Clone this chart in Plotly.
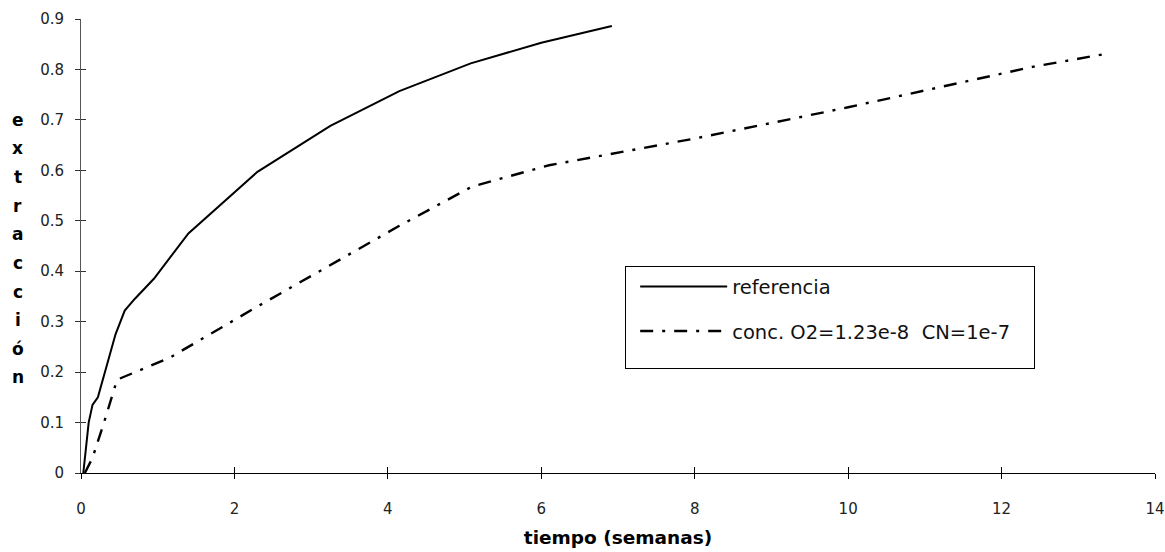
import plotly.graph_objects as go

# extraction vs time (weeks)
t_ref = [0.03, 0.10, 0.15, 0.22, 0.45, 0.57, 0.70, 0.95, 1.40, 2.30, 3.25, 4.15, 5.08, 6.00, 6.92]
ext_ref = [0.0, 0.10, 0.135, 0.15, 0.275, 0.322, 0.345, 0.385, 0.475, 0.597, 0.688, 0.757, 0.812, 0.853, 0.886]

t_o2 = [0.05, 0.15, 0.30, 0.47, 1.15, 2.30, 4.15, 5.10, 6.10, 7.00, 8.00, 9.20, 10.00, 11.20, 12.40, 13.40]
ext_o2 = [0.0, 0.03, 0.10, 0.185, 0.228, 0.33, 0.49, 0.568, 0.61, 0.635, 0.663, 0.70, 0.725, 0.765, 0.805, 0.832]

name_ref = "referencia"
name_o2 = "conc. O2=1.23e-8&nbsp;&nbsp;CN=1e-7" + "&nbsp;" * 3

x_ticks = [0, 2, 4, 6, 8, 10, 12, 14]
y_ticks = [0, 0.1, 0.2, 0.3, 0.4, 0.5, 0.6, 0.7, 0.8, 0.9]
y_tick_text = ["0", "0.1", "0.2", "0.3", "0.4", "0.5", "0.6", "0.7", "0.8", "0.9"]

y_title_letters = list("extracción")

FONT = "DejaVu Sans"

fig = go.Figure()
fig.add_trace(go.Scatter(x=t_ref, y=ext_ref, mode="lines", name=name_ref,
                         legendgroup="a",
                         line=dict(color="black", width=2)))
fig.add_trace(go.Scatter(x=t_o2, y=ext_o2, mode="lines", name=name_o2,
                         legendgroup="b",
                         line=dict(color="black", width=2.4, dash="13px,9px,3px,9px")))

axis_common = dict(showgrid=False, zeroline=False, showline=True, linewidth=1,
                   ticks="outside", ticklen=5, tickwidth=1, automargin=False)

fig.update_layout(
    width=1165, height=552,
    margin=dict(l=81, r=10, t=19, b=79),
    paper_bgcolor="white", plot_bgcolor="white",
    font=dict(family=FONT, size=15, color="#222"),
    xaxis=dict(range=[0, 14], tickvals=x_ticks, linecolor="black", tickcolor="black",
               ticklabelstandoff=17,
               title=dict(text="<b>tiempo (semanas)</b>", font=dict(size=18.5, color="black"), standoff=14),
               **axis_common),
    yaxis=dict(range=[0, 0.9], tickvals=y_ticks, ticktext=y_tick_text, linecolor="#555",
               tickcolor="#333", ticklabelstandoff=8, **axis_common),
    xaxis2=dict(overlaying="x", matches="x", range=[0, 14], tickvals=x_ticks, showticklabels=False,
                ticks="inside", ticklen=6, tickcolor="black", showgrid=False, zeroline=False,
                showline=False, side="bottom", anchor="y"),
    yaxis2=dict(overlaying="y", matches="y", range=[0, 0.9], tickvals=y_ticks, showticklabels=False,
                ticks="inside", ticklen=5, tickcolor="#333", showgrid=False, zeroline=False,
                showline=False, side="left", anchor="x"),
    legend=dict(x=0.5065, y=0.455, xanchor="left", yanchor="top",
                bordercolor="black", borderwidth=1, bgcolor="white",
                font=dict(family=FONT, size=19.5, color="#111"),
                title=dict(text="&nbsp;<br>" * 6 + "&nbsp;", side="left", font=dict(size=10)),
                itemwidth=87, tracegroupgap=16, indentation=-4),
    showlegend=True,
)

# tick marks crossing the axes on the inner side
fig.add_trace(go.Scatter(x=[None], y=[None], xaxis="x2", yaxis="y2", showlegend=False, hoverinfo="skip"))

# vertical stacked y-axis title
y_top, y_step = 0.700, 0.0567
for i, ch in enumerate(y_title_letters):
    fig.add_annotation(text=f"<b>{ch}</b>", x=-0.0587, xref="paper", xanchor="center",
                       y=y_top - i * y_step, yref="y", yanchor="middle",
                       showarrow=False, font=dict(family=FONT, size=17, color="black"))

fig.write_html("out.html")
